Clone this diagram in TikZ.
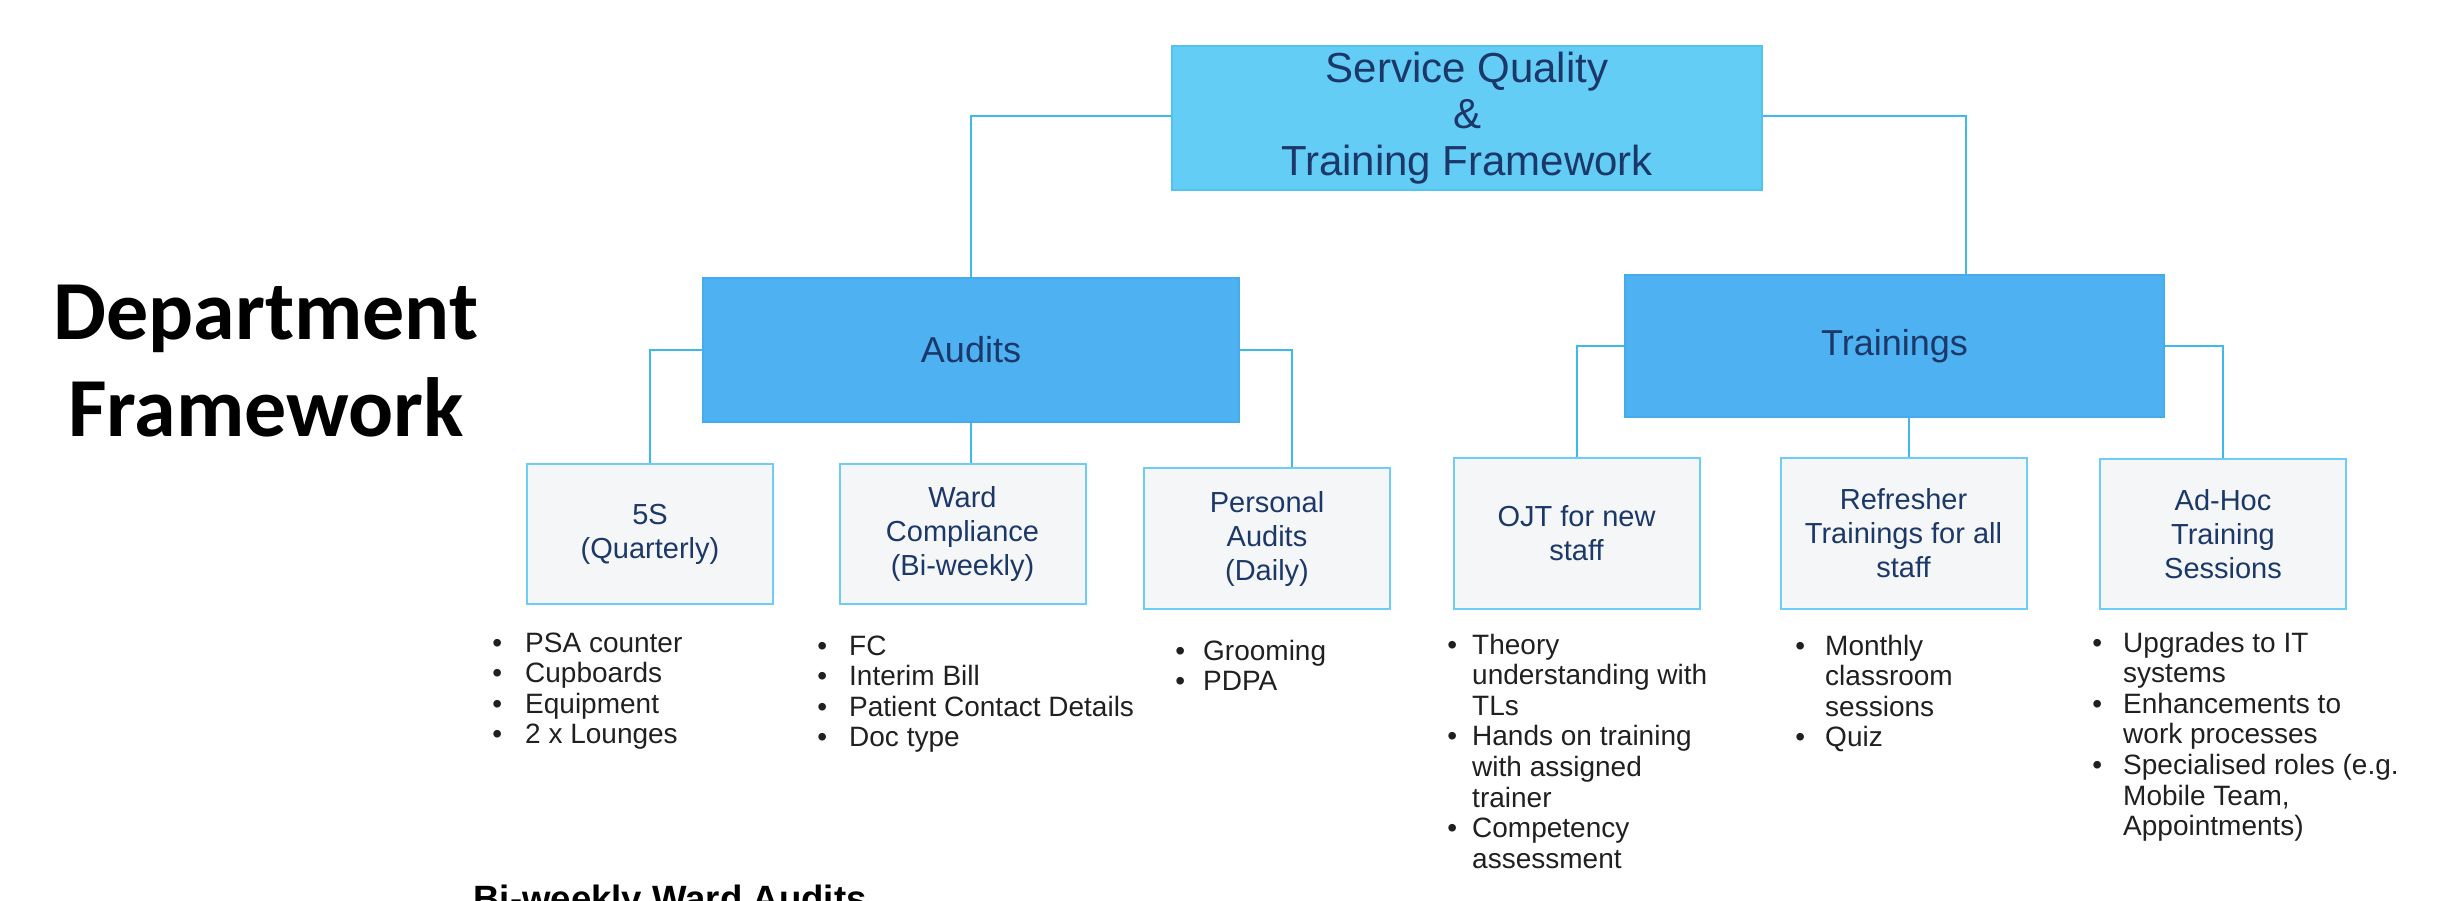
\documentclass[tikz,border=0pt]{standalone}
\usepackage{fontspec}
\setmainfont{Liberation Sans}
\newfontfamily\titlefont{Carlito}
\usetikzlibrary{calc}

\definecolor{topfill}{HTML}{63CDF6}
\definecolor{topline}{HTML}{52C3F0}
\definecolor{midfill}{HTML}{4DB1F2}
\definecolor{midline}{HTML}{45ACEC}
\definecolor{leaffill}{HTML}{F5F6F8}
\definecolor{leafline}{HTML}{6DCDF4}
\definecolor{connline}{HTML}{3DBAEB}
\definecolor{navy}{HTML}{1B3868}
\definecolor{bodytext}{HTML}{202020}

% bullet list: #1 = gap between bullet and text, #2 = rows
\newcommand\bulletlist[2]{\begin{tabular}[t]{@{}c@{\hspace{#1}}l@{}}#2\end{tabular}}

\begin{document}
\begin{tikzpicture}[x=0.5pt,y=-0.5pt,
  topbox/.style={draw=topline, line width=1pt, fill=topfill, text=navy,
    align=center, inner sep=0pt, font=\fontsize{21}{23.3}\selectfont,
    minimum width=295pt, minimum height=72pt},
  midbox/.style={draw=midline, line width=1pt, fill=midfill, text=navy,
    align=center, inner sep=0pt, font=\fontsize{18}{21}\selectfont,
    minimum width=268pt, minimum height=72pt},
  leafbox/.style={draw=leafline, line width=1pt, fill=leaffill, text=navy,
    align=center, inner sep=0pt, font=\fontsize{14.5}{17}\selectfont,
    minimum width=123pt},
  bullets/.style={anchor=base west, inner sep=0pt, text=bodytext,
    font=\fontsize{14}{15.3}\selectfont},
  conn/.style={draw=connline, line width=1pt}]

\useasboundingbox (0,0) rectangle (2450,900);
\clip (0,0) rectangle (2450,900);

% page title
\node[font=\titlefont\bfseries\fontsize{42}{48.5}\selectfont, align=center]
  (title) at (266,361) {Department\\Framework};

% top of the hierarchy
\node[topbox] (top) at (1467,118) {Service Quality\\\&\\Training Framework};

% second level
\node[midbox] (aud) at (971,350) {Audits};
\node[midbox, minimum width=269.5pt, minimum height=71pt] (trn) at (1894.5,346) {Trainings};

% audit leaves
\node[leafbox, minimum height=70pt] (s5) at (650,534) {5S\\(Quarterly)};
\node[leafbox, minimum height=70pt] (ward) at (962.5,534) {Ward\\Compliance\\(Bi-weekly)};
\node[leafbox, minimum height=70.5pt] (pers) at (1267,538.5) {Personal\\Audits\\(Daily)};

% training leaves
\node[leafbox, minimum height=75.5pt] (ojt) at (1576.5,533.5) {OJT for new\\staff};
\node[leafbox, minimum height=75.5pt] (ref) at (1903.5,533.5) {Refresher\\Trainings for all\\staff};
\node[leafbox, minimum height=75pt] (adh) at (2223,534) {Ad-Hoc\\Training\\Sessions};

% connectors
\draw[conn] ([yshift=1pt]top.west) -| (aud.north);
\draw[conn] ([yshift=1pt]top.east) -| ([xshift=35.75pt]trn.north);
\draw[conn] (aud.west) -| (s5.north);
\draw[conn] (aud.south) -- (aud.south |- ward.north);
\draw[conn] (aud.east) -| ([xshift=12.5pt]pers.north);
\draw[conn] (trn.west) -| (ojt.north);
\draw[conn] ([xshift=2.5pt]ref.north) -- ([xshift=2.5pt]ref.north |- trn.south);
\draw[conn] (trn.east) -| (adh.north);

% bullet lists under each leaf
\node[bullets] (l5s) at (492,652) {\bulletlist{11.5pt}{%
  \textbullet & PSA counter\\
  \textbullet & Cupboards\\
  \textbullet & Equipment\\
  \textbullet & 2 x Lounges}};
\node[bullets] (lward) at (817,655) {\bulletlist{11pt}{%
  \textbullet & FC\\
  \textbullet & Interim Bill\\
  \textbullet & Patient Contact Details\\
  \textbullet & Doc type}};
\node[bullets] (lpers) at (1175,660) {\bulletlist{9pt}{%
  \textbullet & Grooming\\
  \textbullet & PDPA}};
\node[bullets] (lojt) at (1447,654) {\bulletlist{7.5pt}{%
  \textbullet & Theory\\
   & understanding with\\
   & TLs\\
  \textbullet & Hands on training\\
   & with assigned\\
   & trainer\\
  \textbullet & Competency\\
   & assessment}};
\node[bullets] (lref) at (1795,655) {\bulletlist{10pt}{%
  \textbullet & Monthly\\
   & classroom\\
   & sessions\\
  \textbullet & Quiz}};
\node[bullets] (ladh) at (2092,652) {\bulletlist{10.5pt}{%
  \textbullet & Upgrades to IT\\
   & systems\\
  \textbullet & Enhancements to\\
   & work processes\\
  \textbullet & Specialised roles (e.g.\\
   & Mobile Team,\\
   & Appointments)}};

% heading running off the lower edge
\node[anchor=base west, inner sep=0pt, font=\bfseries\fontsize{18.3}{20}\selectfont]
  (bottom) at (473,911) {Bi-weekly Ward Audits};

\end{tikzpicture}
\end{document}
